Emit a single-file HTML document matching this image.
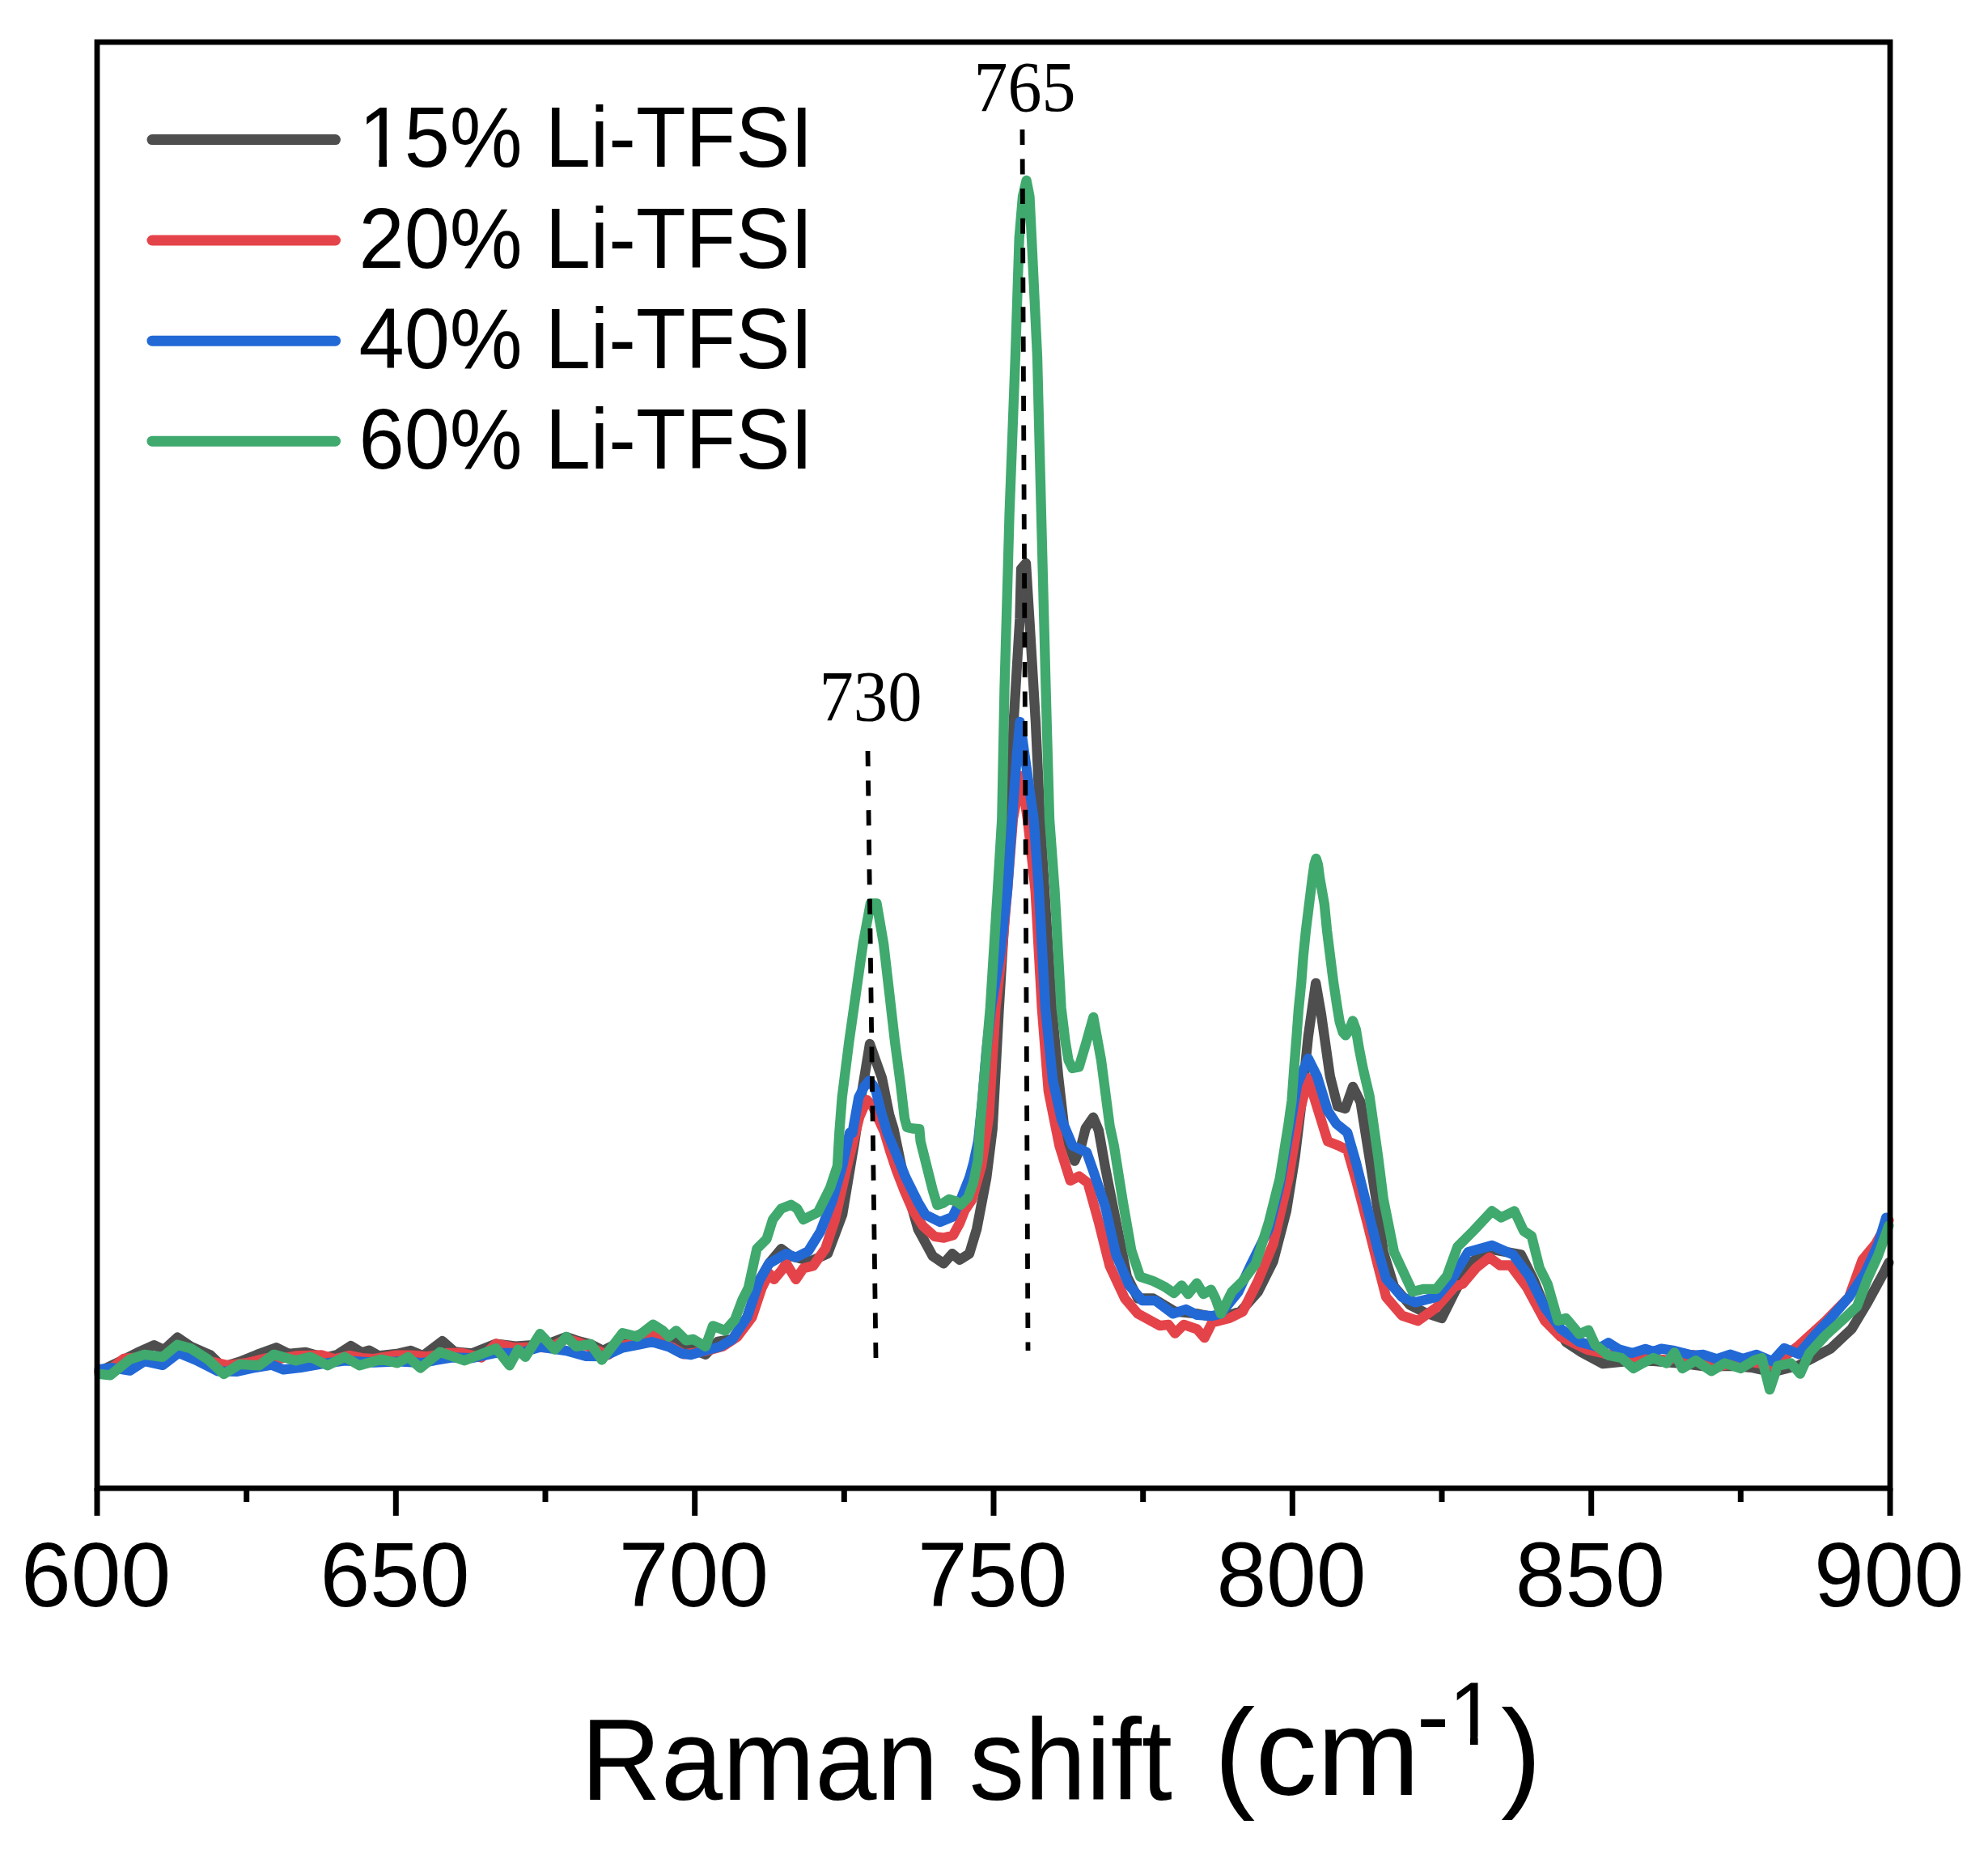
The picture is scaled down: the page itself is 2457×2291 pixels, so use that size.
<!DOCTYPE html>
<html><head><meta charset="utf-8"><title>Raman shift</title>
<style>
html,body{margin:0;padding:0;background:#fff;overflow:hidden}
svg{display:block}
.sans{font-family:"Liberation Sans",Arial,sans-serif;fill:#000}
.serif{font-family:"Liberation Serif","Times New Roman",serif;fill:#000}
</style></head><body>
<svg width="2457" height="2291" viewBox="0 0 2457 2291">
<rect width="2457" height="2291" fill="#fff"/>
<g fill="none" stroke-width="12.3" stroke-linejoin="round" stroke-linecap="round">
<polyline points="122.6,1694.9 145.3,1683.9 169.4,1671.7 190.6,1662.2 202.6,1668.1 219.2,1652.7 235.8,1663.9 260,1674.5 275.1,1689.1 296.2,1682.6 317.3,1674.1 341.5,1665.2 356.6,1672.8 377.7,1671 401.8,1677.7 416.9,1674 433.5,1663.1 447.1,1671.3 456.2,1668.6 468.2,1675.4 492.4,1672.5 507.5,1669 522.6,1675.3 546.7,1657.2 561.8,1670.4 582.9,1672.4 613.1,1660.6 637.3,1663.7 658.4,1662.2 673.5,1662 700,1652 715.1,1657.2 730.2,1661.1 745.3,1669 769.4,1656.6 790.6,1649.2 805.6,1642.4 820.7,1649.4 835.8,1656.3 853.9,1666.5 872,1673.7 887.1,1657.9 905.3,1654.9 923.4,1627.7 938.5,1582.4 950.5,1561.3 965.6,1543.2 977.7,1552.2 1001.8,1558.3 1023,1549.2 1041.1,1500.9 1056.2,1410.4 1065.2,1350 1075,1290 1090,1332 1099,1377 1104.5,1395 1118,1460 1134.7,1519 1152.8,1552.2 1166.3,1561.3 1176.9,1549.2 1186,1556.8 1198,1549.2 1207.1,1519 1219.2,1455.6 1226.7,1395.3 1234.7,1245.7 1243.6,1100 1248,1012 1252.7,893 1260.4,765 1262,703 1268,696 1272.3,765 1280,893 1285.5,1012 1291,1100 1300,1245.7 1308,1330 1316,1400 1328.2,1434.6 1336.3,1415.7 1341.7,1394.2 1351.1,1380.7 1357.9,1396.9 1366,1442.7 1379.4,1510.1 1392.9,1577.6 1406.4,1604.5 1425.3,1604.5 1452.3,1620.7 1479.2,1623.4 1506.2,1628.8 1533.2,1620.7 1554.7,1596.4 1573.6,1558.7 1589.8,1496.7 1600.6,1429.2 1608.7,1361.8 1616.8,1280.9 1626.2,1214.8 1633,1253.9 1643.7,1329.4 1653.2,1367.2 1662.6,1369.9 1672.1,1342.9 1681.5,1361.8 1692.3,1429.2 1703.1,1496.7 1709.8,1547.2 1722.9,1589.7 1742.5,1612.6 1762.1,1622.4 1781.8,1628.9 1798.1,1596.2 1817.7,1560.2 1843.9,1543.9 1879.9,1550.4 1896.2,1583.1 1909.3,1615.8 1935.4,1658.3 1955.1,1671.4 1981.2,1685.2 2010.7,1682.1 2043.4,1681.9 2076.1,1684.5 2108.8,1688.7 2141.5,1687.8 2164.4,1689.8 2190.5,1695.6 2223.2,1687.2 2262.5,1666.5 2288.6,1642 2308.2,1609.3 2327.9,1573.3 2334.4,1560.2" stroke="#4e4e4e"/>
<polyline points="122.6,1694.9 139.2,1689.9 152.8,1679 175.5,1677 199.6,1679.2 220.7,1667.5 244.9,1680.7 260,1682.2 281.1,1687 305.3,1684.1 329.4,1678.2 341.5,1679.7 365.6,1675.5 383.7,1674.8 397.3,1674.4 413.9,1679.3 432,1675 447.1,1678.1 462.2,1679.1 489.4,1674.6 507.5,1674.6 528.6,1676.4 552.8,1671.8 570.9,1672 595,1677.5 613.1,1660.4 637.3,1665.5 658.4,1664.6 679.5,1665.4 700,1654.3 715.1,1658.7 730.2,1665 751.3,1674.4 769.4,1662.7 787.5,1658.8 805.6,1647.4 817.7,1659.9 829.8,1664.4 844.9,1673.3 857,1671.8 872,1669.5 893.2,1663.9 911.3,1651.8 929.4,1627.7 941.5,1591.5 950.5,1573.4 956.6,1580.9 965.6,1570.3 971.7,1561.3 983.7,1580.9 992.8,1567.3 1004.9,1564.3 1020,1543.2 1032,1507 1047.1,1440.6 1062.2,1380.2 1071.3,1359.1 1078.3,1366.2 1085.6,1382.4 1092.9,1398.5 1100.2,1422.8 1108.3,1447.1 1117.7,1471.4 1128.2,1495.6 1140.6,1515 1155.2,1528 1166.5,1529.6 1177.9,1526.4 1186,1511.8 1192.4,1495.6 1201.1,1482.8 1213.1,1440.6 1222.2,1380.2 1230.5,1245.7 1238,1180 1245,1100 1252,1012 1256,990 1262,959 1270,1012 1279.6,1100 1287.7,1245.7 1295.8,1348.3 1309.3,1415.7 1322.8,1458.9 1333.6,1453.5 1344.4,1461.6 1357.9,1510.1 1371.4,1564.1 1390.2,1604.5 1406.4,1623.4 1433.4,1638.2 1444.2,1636.9 1452.3,1647.7 1463.1,1636.9 1479.2,1642.3 1488.7,1653.1 1498.1,1634.2 1519.7,1628.8 1535.9,1620.7 1554.7,1583 1573.6,1537.1 1592.5,1456.2 1606,1375.3 1616.8,1332.1 1627.6,1367.2 1641,1410.4 1654.5,1415.7 1665.3,1421.1 1676.1,1458.9 1689.6,1510.1 1703.1,1564.1 1713.1,1602.7 1732.7,1625.6 1752.3,1632.2 1775.2,1615.8 1798.1,1589.7 1807.9,1586.4 1824.3,1566.8 1840.6,1553.7 1853.7,1563.5 1866.8,1563.5 1886.4,1589.7 1909.3,1632.2 1928.9,1651.8 1961.6,1667.8 1994.3,1675 2027,1677.4 2059.7,1680.6 2092.4,1674.1 2125.1,1688.1 2157.8,1681.6 2190.5,1687.8 2223.2,1662.6 2255.9,1632.7 2285.3,1602.7 2301.7,1557 2318.1,1537.3 2334.4,1507.9" stroke="#e5434a"/>
<polyline points="122.6,1692 139.2,1690.2 160.4,1693.7 178.5,1682.1 201.1,1686.9 220.7,1671.9 241.9,1680.5 269,1694.3 293.2,1694.8 311.3,1690.8 335.4,1686.6 350.5,1692.4 371.7,1689.9 395.8,1685.6 426,1681.4 462.2,1683.6 492.4,1682.3 522.6,1684.1 537.7,1680.9 558.8,1677.5 582.9,1678.2 613.1,1671.8 643.3,1671.7 667.5,1664.5 700,1669.1 724.1,1675.9 745.3,1676.2 769.4,1665.5 787.5,1661.9 805.6,1658.2 826.8,1664.4 841.9,1672.4 853.9,1674.1 869,1669.6 890.2,1663.9 905.3,1654.9 923.4,1627.7 938.5,1582.4 950.5,1561.3 971.7,1549.2 983.7,1553.7 998.8,1546.2 1013.9,1522 1029,1482.8 1041.1,1440.6 1050.1,1399.8 1053.5,1399.9 1061.3,1356.1 1068,1343 1074.2,1335.4 1079,1341 1082.8,1349.2 1088.9,1373.4 1096.6,1399.9 1107.5,1425.5 1119.6,1455.6 1134.7,1485.8 1143.7,1500.9 1161.8,1510 1176.9,1503.9 1186,1485.8 1198,1455.6 1203,1438 1209,1410 1214,1360 1219,1300 1225,1245 1236,1180 1245,1100 1251,1012 1257,930 1260.6,892 1266,930 1277.6,1012 1284,1100 1292,1245.7 1301.2,1334.8 1312,1383.4 1325.5,1415.7 1343,1423.8 1352.5,1450.8 1366,1491.3 1379.4,1550.6 1395.6,1588.3 1411.8,1607.2 1428,1607.2 1449.6,1623.4 1465.7,1618 1479.2,1624.8 1498.1,1626.1 1508.9,1623.4 1530.5,1596.4 1546.7,1561.4 1568.2,1518.2 1581.7,1464.3 1592.5,1402.3 1603.3,1340.2 1616.8,1307.9 1627.6,1329.4 1641,1372.6 1651.8,1388.8 1665.3,1399.6 1676.1,1437.3 1689.6,1491.3 1703.1,1545.2 1713.1,1579.9 1732.7,1602.7 1749.1,1609.3 1775.2,1602.7 1794.8,1579.9 1814.5,1547.2 1843.9,1539 1870,1550.4 1889.7,1576.6 1909.3,1615.8 1928.9,1642 1951.8,1658.3 1978,1665.1 1987.8,1659.2 2000.9,1667.4 2017.2,1672 2033.6,1666.9 2043.4,1670 2053.2,1666.6 2069.5,1669.1 2092.4,1674.9 2105.5,1674 2121.8,1679.4 2138.2,1673.7 2154.5,1679 2170.9,1674 2190.5,1682.2 2205.2,1665.9 2223.2,1673.2 2242.8,1649.9 2262.5,1628.9 2285.3,1602.7 2305,1573.3 2321.3,1537.3 2331.1,1504.6" stroke="#2269d6"/>
<polyline points="122.6,1697.9 136.2,1699.4 160.4,1679.8 178.5,1673.8 201.1,1676.8 219.2,1661.7 235.8,1666.2 257,1679.8 276.6,1697.9 296.2,1685.8 320.3,1687.3 338.5,1673.8 365.6,1681.3 383.7,1676.8 404.9,1687.3 426,1676.8 444.1,1687.3 471.3,1679.8 490.9,1684.3 504.5,1676.8 519.6,1690.4 543.7,1670.7 573.9,1681.3 613.1,1666.2 629.7,1687.3 640.3,1667.7 649.4,1676.8 667.5,1648.1 685.6,1667.7 700,1651.8 712.1,1663.9 730.2,1660.9 743.8,1680.5 769.4,1647.3 787.5,1651.8 807.2,1636.7 819.2,1644.3 826.8,1651.8 835.8,1644.3 847.9,1656.4 857,1654.9 872,1663.9 881.1,1638.3 896.2,1644.3 908.3,1630.7 917.3,1606.6 924.9,1591.5 935.4,1543.2 947.5,1531.1 955.1,1507 965.6,1493.4 977.7,1488.8 985.2,1493.4 992.8,1507 1010.9,1497.9 1026,1467.7 1035,1440.6 1037.3,1399.9 1040.7,1356.1 1049.4,1287.1 1058,1226.7 1066.6,1166.3 1075.9,1116.4 1083.5,1116.4 1092.1,1166.3 1099.1,1226.7 1106,1287.1 1112.9,1338.8 1118,1382 1121,1393 1127.7,1394.5 1136.3,1395.1 1137.7,1410.4 1146.7,1446.6 1152.8,1470.7 1158.4,1489.2 1165.7,1486.7 1173,1481.9 1181.1,1484.3 1187.6,1488.8 1196.5,1479.4 1202.9,1461.7 1208.6,1434.1 1211.3,1391 1223.8,1245.7 1233,1100 1238.3,1012 1241.5,850 1247.6,635 1254.9,441 1259.7,294 1264,243 1268.6,223 1272.5,243 1275,294 1282,441 1286.9,635 1292.5,850 1297,1012 1303.5,1100 1311.6,1245.7 1316.5,1286 1320.5,1310 1325.4,1320 1333.5,1318.5 1342,1290 1351.3,1257 1361,1310.4 1371.5,1391 1376.8,1415.7 1387.5,1483.2 1398.3,1545.2 1409.1,1577.6 1425.3,1583 1438.8,1589.7 1450.9,1597.8 1460.4,1588.3 1468.4,1599.1 1479.2,1585.7 1487.3,1599.1 1496.8,1593.7 1502.2,1604.5 1508.9,1623.4 1522.4,1596.4 1535.9,1583 1552,1561.4 1568.2,1510.1 1581.7,1456.2 1592.5,1388.8 1596.5,1360 1599.4,1320 1602.6,1278.9 1605,1246.5 1608.3,1214.2 1610.7,1181.8 1614,1149.4 1618,1117 1622,1084.7 1624.3,1068.5 1626.6,1060.8 1629,1068.5 1631.1,1084.7 1636.8,1117 1640,1149.4 1644,1181.8 1648.1,1214.2 1653,1246.5 1655.7,1262.7 1659.7,1275.7 1663,1279.4 1667,1274 1671.9,1261.4 1675.9,1272.4 1679.6,1295 1684.5,1320 1692.7,1355 1703.5,1431.5 1709.8,1481.8 1722.9,1547.2 1745.8,1596.2 1758.9,1592.9 1775.2,1592.9 1788.3,1576.6 1801.4,1540.6 1821,1521 1843.9,1496.5 1855.3,1504.6 1871.7,1496.5 1883.1,1521 1892.9,1527.5 1902.7,1566.8 1912.6,1586.4 1925.6,1632.2 1935.4,1628.9 1951.8,1648.5 1963.2,1643.6 1971.4,1661.6 1987.8,1674.7 2004.1,1678 2018.8,1691 2030.3,1684.5 2043.4,1678 2059.7,1684.5 2069.5,1671.4 2079.3,1691 2095.7,1681.2 2115.3,1694.3 2131.7,1684.5 2151.3,1691 2167.6,1681.2 2177.4,1678 2187.2,1717.2 2197.1,1687.8 2213.4,1684.5 2224.9,1697.6 2236.3,1672.1 2255.9,1650.5 2275.5,1632.8 2295.2,1614.2 2308.2,1579.9 2321.3,1551.1 2334.4,1514.5" stroke="#40a96e"/>
</g>
<g stroke="#000" stroke-width="5.8" stroke-dasharray="19 17.55" fill="none">
<line x1="1072.5" y1="928" x2="1082.5" y2="1678"/>
<line x1="1263.5" y1="160" x2="1270.5" y2="1669"/>
</g>
<rect x="120" y="52" width="2216" height="1787" fill="none" stroke="#000" stroke-width="6.8"/>
<g stroke="#000" stroke-width="7"><line x1="120.0" y1="1839" x2="120.0" y2="1873"/><line x1="304.7" y1="1839" x2="304.7" y2="1856"/><line x1="489.3" y1="1839" x2="489.3" y2="1873"/><line x1="674.0" y1="1839" x2="674.0" y2="1856"/><line x1="858.7" y1="1839" x2="858.7" y2="1873"/><line x1="1043.3" y1="1839" x2="1043.3" y2="1856"/><line x1="1228.0" y1="1839" x2="1228.0" y2="1873"/><line x1="1412.7" y1="1839" x2="1412.7" y2="1856"/><line x1="1597.3" y1="1839" x2="1597.3" y2="1873"/><line x1="1782.0" y1="1839" x2="1782.0" y2="1856"/><line x1="1966.7" y1="1839" x2="1966.7" y2="1873"/><line x1="2151.3" y1="1839" x2="2151.3" y2="1856"/><line x1="2336.0" y1="1839" x2="2336.0" y2="1873"/></g>
<g class="sans" font-size="111"><text x="118.7" y="0" transform="translate(0,1985) scale(1,1.02)" text-anchor="middle">600</text><text x="488.0" y="0" transform="translate(0,1985) scale(1,1.02)" text-anchor="middle">650</text><text x="857.4" y="0" transform="translate(0,1985) scale(1,1.02)" text-anchor="middle">700</text><text x="1226.7" y="0" transform="translate(0,1985) scale(1,1.02)" text-anchor="middle">750</text><text x="1596.0" y="0" transform="translate(0,1985) scale(1,1.02)" text-anchor="middle">800</text><text x="1965.4" y="0" transform="translate(0,1985) scale(1,1.02)" text-anchor="middle">850</text><text x="2334.7" y="0" transform="translate(0,1985) scale(1,1.02)" text-anchor="middle">900</text></g>
<text class="sans" font-size="137" x="718" y="0" transform="translate(0,2224) scale(1,1.04)">Raman shift</text>
<text class="sans" font-size="152.5" x="1500.6" y="2217.5">(cm</text>
<text class="sans" font-size="122" x="1750.8" y="2162">-</text>
<text class="sans" font-size="106" x="1790.5" y="0" transform="translate(0,2156.3) scale(1,1.045)">1</text>
<rect x="1793" y="2146" width="23.9" height="12" fill="#fff"/><rect x="1826.6" y="2146" width="20" height="12" fill="#fff"/>
<text class="sans" font-size="151" x="1855" y="2217.5">)</text>
<line x1="188" y1="172.6" x2="414.5" y2="172.6" stroke="#4e4e4e" stroke-width="13" stroke-linecap="round"/>
<text class="sans" font-size="101" x="443.5" y="0" transform="translate(0,206.3) scale(1,1.043)">15% Li-TFSI</text>
<line x1="188" y1="297.0" x2="414.5" y2="297.0" stroke="#e5434a" stroke-width="13" stroke-linecap="round"/>
<text class="sans" font-size="101" x="443.5" y="0" transform="translate(0,331.2) scale(1,1.043)">20% Li-TFSI</text>
<line x1="188" y1="421.2" x2="414.5" y2="421.2" stroke="#2269d6" stroke-width="13" stroke-linecap="round"/>
<text class="sans" font-size="101" x="443.5" y="0" transform="translate(0,455.2) scale(1,1.043)">40% Li-TFSI</text>
<line x1="188" y1="545.2" x2="414.5" y2="545.2" stroke="#40a96e" stroke-width="13" stroke-linecap="round"/>
<text class="sans" font-size="101" x="443.5" y="0" transform="translate(0,579.4) scale(1,1.043)">60% Li-TFSI</text>
<rect x="448" y="197.6" width="20.3" height="9.5" fill="#fff"/><rect x="478" y="197.6" width="20" height="9.5" fill="#fff"/>
<text class="serif" font-size="88" x="1203.5" y="136.5" textLength="126" lengthAdjust="spacingAndGlyphs">765</text>
<text class="serif" font-size="88" x="1012.5" y="890" textLength="127" lengthAdjust="spacingAndGlyphs">730</text>
</svg></body></html>
